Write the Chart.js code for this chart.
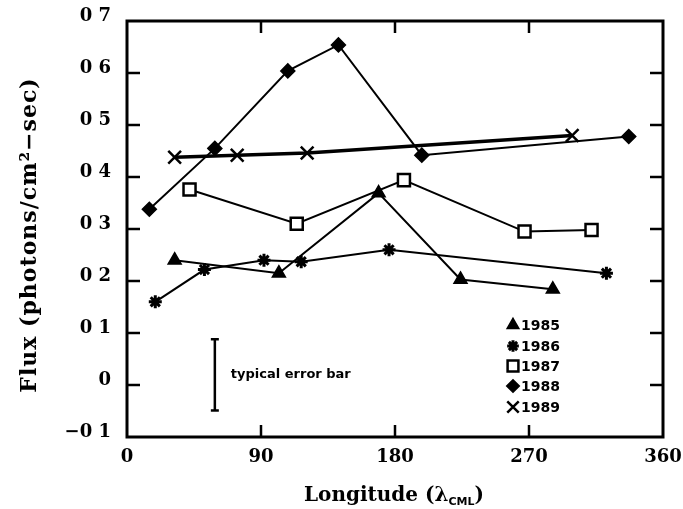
<!DOCTYPE html>
<html>
<head>
<meta charset="utf-8">
<script src="https://cdn.jsdelivr.net/npm/chart.js@4.4.1/dist/chart.umd.min.js"></script>
<style>
  html, body { margin: 0; padding: 0; background: #fff; }
  canvas { display: block; }
</style>
</head>
<body>
<canvas id="flux" width="683" height="509"></canvas>
<script>
// Flux vs. central meridian longitude, one series per year
const lon1985 = [32, 102, 169, 224, 286];
const flux1985 = [0.240, 0.215, 0.369, 0.203, 0.184];
const lon1986 = [19, 52, 92, 117, 176, 322];
const flux1986 = [0.160, 0.222, 0.240, 0.237, 0.260, 0.215];
const lon1987 = [42, 114, 186, 267, 312];
const flux1987 = [0.376, 0.310, 0.394, 0.295, 0.298];
const lon1988 = [15, 59, 108, 142, 198, 337];
const flux1988 = [0.338, 0.455, 0.604, 0.654, 0.442, 0.478];
const lon1989 = [32, 74, 121, 299];
const flux1989 = [0.438, 0.442, 0.446, 0.480];

// typical error bar, drawn as a vertical segment
const errLon = [59, 59];
const errFlux = [0.088, -0.049];

const years = ["1985", "1986", "1987", "1988", "1989"];
const xTicks = [0, 90, 180, 270, 360];
const yTicks = [-0.1, 0, 0.1, 0.2, 0.3, 0.4, 0.5, 0.6, 0.7];

const SERIF = '"DejaVu Serif", "Liberation Serif", serif';
const SANS = '"DejaVu Sans", "Liberation Sans", sans-serif';

const pts = (xs, ys) => xs.map((v, i) => ({ x: v, y: ys[i] }));

const markers = [
  { style: "triangle", radius: 7.5, fill: "#000", bw: 1.5 },
  { style: "star", radius: 6.5, fill: "#000", bw: 3 },
  { style: "rect", radius: 8.5, fill: "#fff", bw: 2.5 },
  { style: "rectRot", radius: 7, fill: "#000", bw: 1.5 },
  { style: "crossRot", radius: 9, fill: "#000", bw: 2.5 }
];
const series = [
  pts(lon1985, flux1985), pts(lon1986, flux1986), pts(lon1987, flux1987),
  pts(lon1988, flux1988), pts(lon1989, flux1989)
];

const datasets = series.map((data, i) => ({
  label: years[i],
  data: data,
  showLine: true,
  borderColor: "#000",
  borderWidth: i === 4 ? 3.5 : 2,
  pointStyle: markers[i].style,
  pointRadius: markers[i].radius,
  pointBackgroundColor: markers[i].fill,
  pointBorderColor: "#000",
  pointBorderWidth: markers[i].bw,
  order: 4 - i
}));

datasets.push({
  label: "error",
  data: pts(errLon, errFlux),
  showLine: true,
  borderColor: "#000",
  borderWidth: 2.5,
  pointStyle: "line",
  pointRadius: 4,
  pointBorderColor: "#000",
  pointBorderWidth: 2.5
});

function tickLabel(v) {
  if (Math.abs(v) < 1e-9) return "0";
  return v.toFixed(1).replace(".", " ").replace("-", "\u2212");
}

// frame, inward ticks on all four sides, titles, key and error-bar note
const decorations = {
  id: "decorations",
  afterDraw(chart) {
    const { ctx, chartArea: a, scales: { x, y } } = chart;
    ctx.save();
    ctx.strokeStyle = "#000";
    ctx.fillStyle = "#000";
    ctx.lineWidth = 3;
    ctx.strokeRect(a.left, a.top, a.right - a.left, a.bottom - a.top);

    ctx.lineWidth = 2.5;
    const seg = (x1, y1, x2, y2) => { ctx.beginPath(); ctx.moveTo(x1, y1); ctx.lineTo(x2, y2); ctx.stroke(); };
    xTicks.slice(1, -1).forEach(v => {
      const px = x.getPixelForValue(v);
      seg(px, a.bottom, px, a.bottom - 12);
      seg(px, a.top, px, a.top + 12);
    });
    yTicks.slice(1, -1).forEach(v => {
      const py = y.getPixelForValue(v);
      seg(a.left, py, a.left + 13, py);
      seg(a.right, py, a.right - 13, py);
    });

    // y title
    ctx.save();
    ctx.translate(30, 235);
    ctx.rotate(-Math.PI / 2);
    ctx.font = "bold 22px " + SERIF;
    ctx.letterSpacing = "1px";
    ctx.textAlign = "center";
    ctx.textBaseline = "middle";
    ctx.fillText("Flux (photons/cm\u00B2\u2212sec)", 0, 0);
    ctx.restore();

    // x title with subscript
    const main = "Longitude (\u03BB", sub = "CML", close = ")";
    ctx.textBaseline = "alphabetic";
    ctx.textAlign = "left";
    ctx.font = "bold 20px " + SERIF;
    const w1 = ctx.measureText(main).width, w3 = ctx.measureText(close).width;
    ctx.font = "bold 11px " + SANS;
    const w2 = ctx.measureText(sub).width;
    let tx = 394 - (w1 + w2 + w3) / 2;
    const ty = 501;
    ctx.font = "bold 20px " + SERIF;
    ctx.fillText(main, tx, ty);
    ctx.font = "bold 11px " + SANS;
    ctx.fillText(sub, tx + w1, ty + 4);
    ctx.font = "bold 20px " + SERIF;
    ctx.fillText(close, tx + w1 + w2, ty);

    // error bar note
    const ex = x.getPixelForValue(errLon[0]);
    const ey = (y.getPixelForValue(errFlux[0]) + y.getPixelForValue(errFlux[1])) / 2;
    ctx.font = "bold 13px " + SANS;
    ctx.textBaseline = "middle";
    ctx.fillText("typical error bar", ex + 16, ey);

    // key
    const draw = Chart.helpers && Chart.helpers.drawPoint;
    const kx = 513, ky = [325, 346, 366, 386, 407];
    years.forEach((yr, i) => {
      const m = markers[i];
      if (draw) {
        ctx.fillStyle = m.fill;
        ctx.lineWidth = m.bw;
        draw(ctx, { pointStyle: m.style, radius: m.radius * 0.9, rotation: 0, borderWidth: m.bw }, kx, ky[i]);
      }
      ctx.fillStyle = "#000";
      ctx.font = "bold 14px " + SANS;
      ctx.textAlign = "left";
      ctx.fillText(yr, kx + 8, ky[i] + 1);
    });
    ctx.restore();
  }
};

new Chart(document.getElementById("flux"), {
  type: "scatter",
  data: { datasets: datasets },
  options: {
    responsive: false,
    animation: false,
    layout: { padding: { top: 21, right: 20, left: 0, bottom: 0 } },
    plugins: { legend: { display: false }, tooltip: { enabled: false } },
    scales: {
      x: {
        type: "linear",
        min: 0, max: 360,
        afterBuildTicks: s => { s.ticks = xTicks.map(v => ({ value: v })); },
        afterFit: s => { s.height = 72; s.paddingLeft = 0; s.paddingRight = 0; },
        grid: { display: false, drawTicks: false },
        border: { display: false },
        ticks: { color: "#000", font: { family: SERIF, size: 18, weight: "bold" }, padding: 10, maxRotation: 0 }
      },
      y: {
        type: "linear",
        min: -0.1, max: 0.7,
        afterBuildTicks: s => { s.ticks = yTicks.map(v => ({ value: v })); },
        afterFit: s => { s.width = 127; s.paddingTop = 0; s.paddingBottom = 0; },
        grid: { display: false, drawTicks: false },
        border: { display: false },
        ticks: { color: "#000", font: { family: SERIF, size: 18, weight: "bold" }, padding: 16, labelOffset: -5, callback: tickLabel }
      }
    }
  },
  plugins: [decorations]
});
</script>
</body>
</html>
